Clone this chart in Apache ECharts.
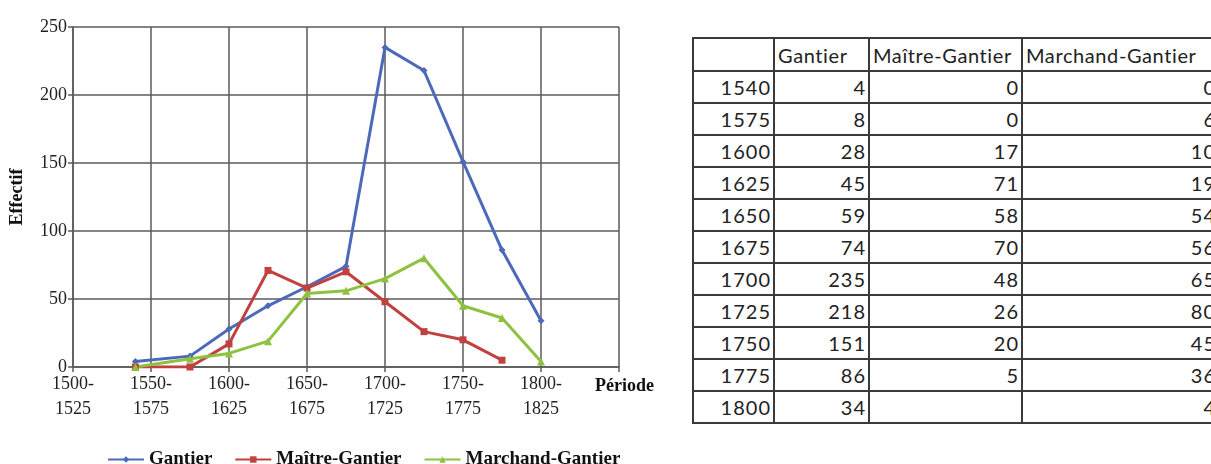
<!DOCTYPE html>
<html lang="fr">
<head>
    <meta charset="UTF-8">
    <title>Effectif par période</title>
    <style>
        html, body { margin: 0; padding: 0; background: #fff; overflow: hidden; width: 1211px; height: 464px; }
        #graphique { position: absolute; left: 0; top: 0; width: 680px; height: 464px; }
        #tableau {
            position: absolute; left: 692px; top: 37px;
            border-collapse: collapse; table-layout: fixed;
            font-family: Lato, "Open Sans", sans-serif; font-size: 20px; letter-spacing: 1px; color: #222;
        }
        #tableau td { border: 2px solid #3a3a3a; padding: 0 2px 0 3px; height: 30px; white-space: nowrap; overflow: hidden; text-align: right; }
        #tableau tr.entete td { text-align: left; height: 31px; letter-spacing: 0.6px; }
    </style>
</head>
<body>
<div id="graphique"></div>
<table id="tableau"></table>
<script src="https://cdn.jsdelivr.net/npm/echarts@6/dist/echarts.min.js"></script>
<script>
    var annees = [1540, 1575, 1600, 1625, 1650, 1675, 1700, 1725, 1750, 1775, 1800];
    var gantier = [4, 8, 28, 45, 59, 74, 235, 218, 151, 86, 34];
    var maitreGantier = [0, 0, 17, 71, 58, 70, 48, 26, 20, 5, null];
    var marchandGantier = [0, 6, 10, 19, 54, 56, 65, 80, 45, 36, 4];
    var noms = ['Gantier', 'Maître-Gantier', 'Marchand-Gantier'];
    var couleurs = ['#4d69b9', '#c0413e', '#8ec140'];
    var largeursCol = [81, 95, 153, 197];

    function paires(valeurs) {
        var res = [];
        for (var i = 0; i < annees.length; i++) {
            if (valeurs[i] !== null) res.push([annees[i], valeurs[i]]);
        }
        return res;
    }

    // tableau à droite
    function remplirTableau() {
        var t = document.getElementById('tableau');
        var total = 0;
        var html = '<colgroup>';
        for (var c = 0; c < largeursCol.length; c++) {
            html += '<col style="width:' + largeursCol[c] + 'px">';
            total += largeursCol[c];
        }
        html += '</colgroup><tr class="entete">';
        var entete = [''].concat(noms);
        for (var j = 0; j < entete.length; j++) {
            html += '<td>' + entete[j] + '</td>';
        }
        html += '</tr>';
        for (var i = 0; i < annees.length; i++) {
            var m = maitreGantier[i] === null ? '' : maitreGantier[i];
            html += '<tr><td>' + annees[i] + '</td><td>' + gantier[i] + '</td><td>' + m + '</td><td>' + marchandGantier[i] + '</td></tr>';
        }
        t.style.width = total + 'px';
        t.innerHTML = html;
    }

    var serif = '"Liberation Serif", "Times New Roman", serif';
    var grille = '#5a5a5a';

    function graphe() {
        var myChart = echarts.init(document.getElementById('graphique'));
        var symboles = ['diamond', 'rect', 'triangle'];
        var tailles = [7, 7, 8];
        var donnees = [gantier, maitreGantier, marchandGantier];
        var series = [];
        for (var k = 0; k < 3; k++) {
            series.push({
                name: noms[k],
                type: 'line',
                data: paires(donnees[k]),
                symbol: symboles[k],
                symbolSize: tailles[k],
                showSymbol: true,
                lineStyle: { width: 3, color: couleurs[k] },
                itemStyle: { color: couleurs[k] }
            });
        }
        var option = {
            animation: false,
            grid: { left: 73, top: 27, width: 546, height: 340 },
            legend: {
                left: 102, top: 445,
                itemWidth: 36, itemHeight: 8, itemGap: 22,
                textStyle: { fontFamily: serif, fontWeight: 'bold', fontSize: 19, color: '#111' },
                data: noms
            },
            xAxis: {
                type: 'value', min: 1500, max: 1850, interval: 50,
                name: 'Période', nameLocation: 'end', nameGap: -24,
                nameTextStyle: { fontFamily: serif, fontWeight: 'bold', fontSize: 18, color: '#111', verticalAlign: 'top', padding: [10, 0, 0, 0] },
                axisLine: { lineStyle: { color: grille, width: 1.5 } },
                axisTick: { show: true, length: 5, lineStyle: { color: grille, width: 1.5 } },
                splitLine: { lineStyle: { color: grille, width: 1.5 } },
                axisLabel: {
                    margin: 5, fontFamily: serif, fontSize: 18, color: '#222', lineHeight: 25,
                    formatter: function (v) {
                        if (v >= 1850) return '';
                        return v + '-\n' + (v + 25);
                    }
                }
            },
            yAxis: {
                type: 'value', min: 0, max: 250, interval: 50,
                name: 'Effectif', nameLocation: 'middle', nameGap: 47,
                nameTextStyle: { fontFamily: serif, fontWeight: 'bold', fontSize: 18, color: '#111' },
                axisLine: { show: true, lineStyle: { color: grille, width: 1.5 } },
                axisTick: { show: true, length: 5, lineStyle: { color: grille, width: 1.5 } },
                splitLine: { lineStyle: { color: grille, width: 1.5 } },
                axisLabel: { margin: 6, fontFamily: serif, fontSize: 18, color: '#222' }
            },
            series: series
        };
        myChart.setOption(option);
    }

    remplirTableau();
    graphe();
</script>
</body>
</html>
